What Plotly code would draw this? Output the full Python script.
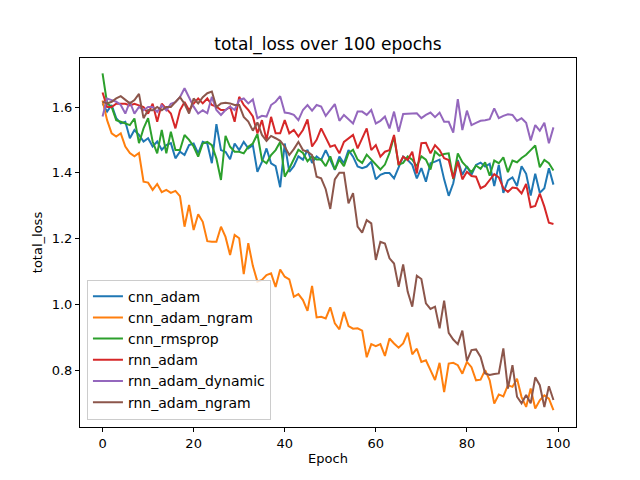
import plotly.graph_objects as go

epochs = list(range(100))

cnn_adam = [1.611, 1.586, 1.606, 1.566, 1.55, 1.555, 1.505, 1.53, 1.515, 1.495,
            1.505, 1.48, 1.495, 1.47, 1.484, 1.49, 1.444, 1.464, 1.454, 1.484,
            1.489, 1.459, 1.494, 1.489, 1.429, 1.548, 1.469, 1.464, 1.441, 1.489,
            1.469, 1.494, 1.474, 1.484, 1.403, 1.433, 1.474, 1.429, 1.42, 1.356,
            1.489, 1.403, 1.42, 1.45, 1.44, 1.47, 1.43, 1.45, 1.439, 1.469,
            1.439, 1.409, 1.449, 1.429, 1.469, 1.449, 1.419, 1.414, 1.419, 1.434,
            1.38, 1.394, 1.399, 1.399, 1.383, 1.419, 1.449, 1.439, 1.424, 1.383,
            1.414, 1.373, 1.429, 1.434, 1.44, 1.38, 1.33, 1.368, 1.439, 1.394,
            1.42, 1.394, 1.424, 1.431, 1.419, 1.427, 1.36, 1.424, 1.339, 1.377,
            1.386, 1.36, 1.42, 1.397, 1.331, 1.397, 1.339, 1.353, 1.414, 1.364]

cnn_adam_ngram = [1.62, 1.56, 1.52, 1.51, 1.52, 1.48, 1.46, 1.45, 1.46, 1.373,
                  1.37, 1.348, 1.366, 1.341, 1.348, 1.339, 1.345, 1.329, 1.236, 1.302,
                  1.226, 1.274, 1.251, 1.192, 1.19, 1.19, 1.236, 1.205, 1.15, 1.211,
                  1.201, 1.092, 1.186, 1.117, 1.069, 1.074, 1.089, 1.094, 1.053, 1.106,
                  1.084, 1.076, 1.023, 1.031, 1.013, 0.98, 1.056, 0.96, 0.962, 0.957,
                  0.991, 0.942, 0.924, 0.977, 0.934, 0.926, 0.927, 0.92, 0.839, 0.879,
                  0.873, 0.879, 0.843, 0.896, 0.881, 0.868, 0.881, 0.914, 0.848, 0.865,
                  0.825, 0.83, 0.80, 0.77, 0.822, 0.733, 0.82, 0.822, 0.815, 0.789,
                  0.825, 0.809, 0.769, 0.771, 0.80, 0.769, 0.698, 0.726, 0.72, 0.754,
                  0.749, 0.774, 0.718, 0.688, 0.744, 0.683, 0.708, 0.723, 0.713, 0.678]

cnn_rmsprop = [1.702, 1.611, 1.60, 1.56, 1.555, 1.55, 1.545, 1.565, 1.49, 1.535,
               1.566, 1.495, 1.459, 1.53, 1.459, 1.525, 1.469, 1.469, 1.515, 1.50,
               1.48, 1.449, 1.489, 1.494, 1.484, 1.443, 1.378, 1.512, 1.479, 1.464,
               1.464, 1.459, 1.479, 1.489, 1.518, 1.439, 1.429, 1.454, 1.469, 1.494,
               1.388, 1.413, 1.44, 1.47, 1.46, 1.435, 1.45, 1.44, 1.44, 1.42,
               1.45, 1.41, 1.44, 1.42, 1.46, 1.47, 1.44, 1.43, 1.455, 1.44,
               1.425, 1.41, 1.425, 1.46, 1.51, 1.425, 1.43, 1.45, 1.44, 1.42,
               1.45, 1.44, 1.41, 1.465, 1.452, 1.457, 1.459, 1.381, 1.459, 1.432,
               1.417, 1.402, 1.422, 1.412, 1.432, 1.391, 1.437, 1.429, 1.447, 1.402,
               1.437, 1.432, 1.445, 1.455, 1.469, 1.483, 1.417, 1.439, 1.429, 1.407]

rnn_adam = [1.644, 1.60, 1.60, 1.61, 1.61, 1.61, 1.605, 1.61, 1.605, 1.60,
            1.58, 1.61, 1.555, 1.61, 1.595, 1.58, 1.535, 1.59, 1.615, 1.59,
            1.61, 1.626, 1.611, 1.626, 1.606, 1.601, 1.591, 1.591, 1.601, 1.555,
            1.631, 1.606, 1.591, 1.571, 1.52, 1.56, 1.50, 1.57, 1.52, 1.52,
            1.56, 1.52, 1.53, 1.51, 1.53, 1.562, 1.48, 1.50, 1.535, 1.505,
            1.479, 1.484, 1.459, 1.494, 1.505, 1.515, 1.474, 1.505, 1.535, 1.469,
            1.484, 1.449, 1.464, 1.469, 1.515, 1.424, 1.449, 1.439, 1.464, 1.398,
            1.49, 1.491, 1.459, 1.484, 1.469, 1.444, 1.439, 1.383, 1.434, 1.38,
            1.403, 1.39, 1.388, 1.353, 1.36, 1.378, 1.396, 1.386, 1.353, 1.342,
            1.355, 1.353, 1.337, 1.366, 1.295, 1.299, 1.337, 1.297, 1.248, 1.244]

rnn_adam_dynamic = [1.571, 1.626, 1.621, 1.616, 1.606, 1.58, 1.616, 1.58, 1.60, 1.59,
                    1.60, 1.60, 1.585, 1.605, 1.59, 1.61, 1.615, 1.63, 1.657, 1.631,
                    1.601, 1.58, 1.59, 1.581, 1.631, 1.591, 1.576, 1.591, 1.601, 1.591,
                    1.621, 1.626, 1.611, 1.623, 1.566, 1.573, 1.571, 1.606, 1.616, 1.633,
                    1.583, 1.581, 1.576, 1.56, 1.591, 1.606, 1.589, 1.606, 1.601, 1.573,
                    1.591, 1.609, 1.558, 1.576, 1.563, 1.55, 1.586, 1.586, 1.576, 1.591,
                    1.55, 1.558, 1.571, 1.535, 1.586, 1.525, 1.579, 1.579, 1.579, 1.581,
                    1.566, 1.576, 1.583, 1.569, 1.583, 1.555, 1.555, 1.522, 1.624, 1.53,
                    1.589, 1.545, 1.552, 1.558, 1.56, 1.563, 1.596, 1.566, 1.573, 1.578,
                    1.576, 1.558, 1.566, 1.552, 1.498, 1.545, 1.528, 1.552, 1.49, 1.538]

rnn_adam_ngram = [1.616, 1.611, 1.616, 1.626, 1.633, 1.623, 1.611, 1.621, 1.64, 1.566,
                  1.591, 1.59, 1.60, 1.59, 1.60, 1.60, 1.615, 1.63, 1.61, 1.58,
                  1.626, 1.611, 1.63, 1.642, 1.647, 1.60, 1.611, 1.613, 1.611, 1.606,
                  1.606, 1.57, 1.556, 1.528, 1.553, 1.515, 1.497, 1.512, 1.505, 1.497,
                  1.48, 1.454, 1.472, 1.494, 1.469, 1.464, 1.454, 1.388, 1.383, 1.35,
                  1.29, 1.38, 1.40, 1.40, 1.307, 1.338, 1.236, 1.218, 1.256, 1.246,
                  1.135, 1.19, 1.185, 1.14, 1.124, 1.053, 1.121, 1.038, 0.993, 1.087,
                  1.077, 1.003, 0.986, 0.993, 0.927, 1.011, 0.913, 0.893, 0.879, 0.92,
                  0.828, 0.861, 0.863, 0.84, 0.79, 0.785, 0.788, 0.79, 0.866, 0.744,
                  0.815, 0.719, 0.699, 0.724, 0.699, 0.778, 0.754, 0.688, 0.751, 0.709]

series_names = ["cnn_adam", "cnn_adam_ngram", "cnn_rmsprop", "rnn_adam",
                "rnn_adam_dynamic", "rnn_adam_ngram"]
series_values = [cnn_adam, cnn_adam_ngram, cnn_rmsprop, rnn_adam,
                 rnn_adam_dynamic, rnn_adam_ngram]
colors = ["#1f77b4", "#ff7f0e", "#2ca02c", "#d62728", "#9467bd", "#8c564b"]

x_ticks = [0, 20, 40, 60, 80, 100]
y_ticks = [0.8, 1.0, 1.2, 1.4, 1.6]

fig = go.Figure()
for name, vals, col in zip(series_names, series_values, colors):
    fig.add_trace(go.Scatter(x=epochs, y=vals, mode="lines", name=name,
                             line=dict(color=col, width=2)))

font = "DejaVu Sans"
axis_common = dict(showline=True, linecolor="black", linewidth=1, mirror=True,
                   ticks="outside", ticklen=4, tickwidth=1, tickcolor="black",
                   showgrid=False, zeroline=False,
                   tickfont=dict(family=font, size=13, color="black"))

W, H = 632, 472
fig.update_layout(
    width=W, height=H,
    margin=dict(l=72, r=64, t=50, b=53),
    paper_bgcolor="white", plot_bgcolor="white",
    title=dict(text="total_loss over 100 epochs", x=(328 - 8) / W, xanchor="center",
               y=1 - 36 / H, yanchor="middle",
               font=dict(family=font, size=17, color="black")),
    xaxis=dict(range=[-4.95, 103.95], tickvals=x_ticks,
               title=dict(text="Epoch", font=dict(family=font, size=13, color="black"),
                          standoff=4),
               **axis_common),
    yaxis=dict(range=[0.627, 1.749], tickvals=y_ticks, tickformat=".1f",
               title=dict(text="total_loss", font=dict(family=font, size=13, color="black"),
                          standoff=6),
               **axis_common),
    legend=dict(x=0.014, y=0.02, xanchor="left", yanchor="bottom",
                bgcolor="rgba(255,255,255,0.8)", bordercolor="#cccccc", borderwidth=1,
                font=dict(family=font, size=14, color="black"),
                itemwidth=30, tracegroupgap=0),
    showlegend=True,
)

fig.write_html("out.html")
